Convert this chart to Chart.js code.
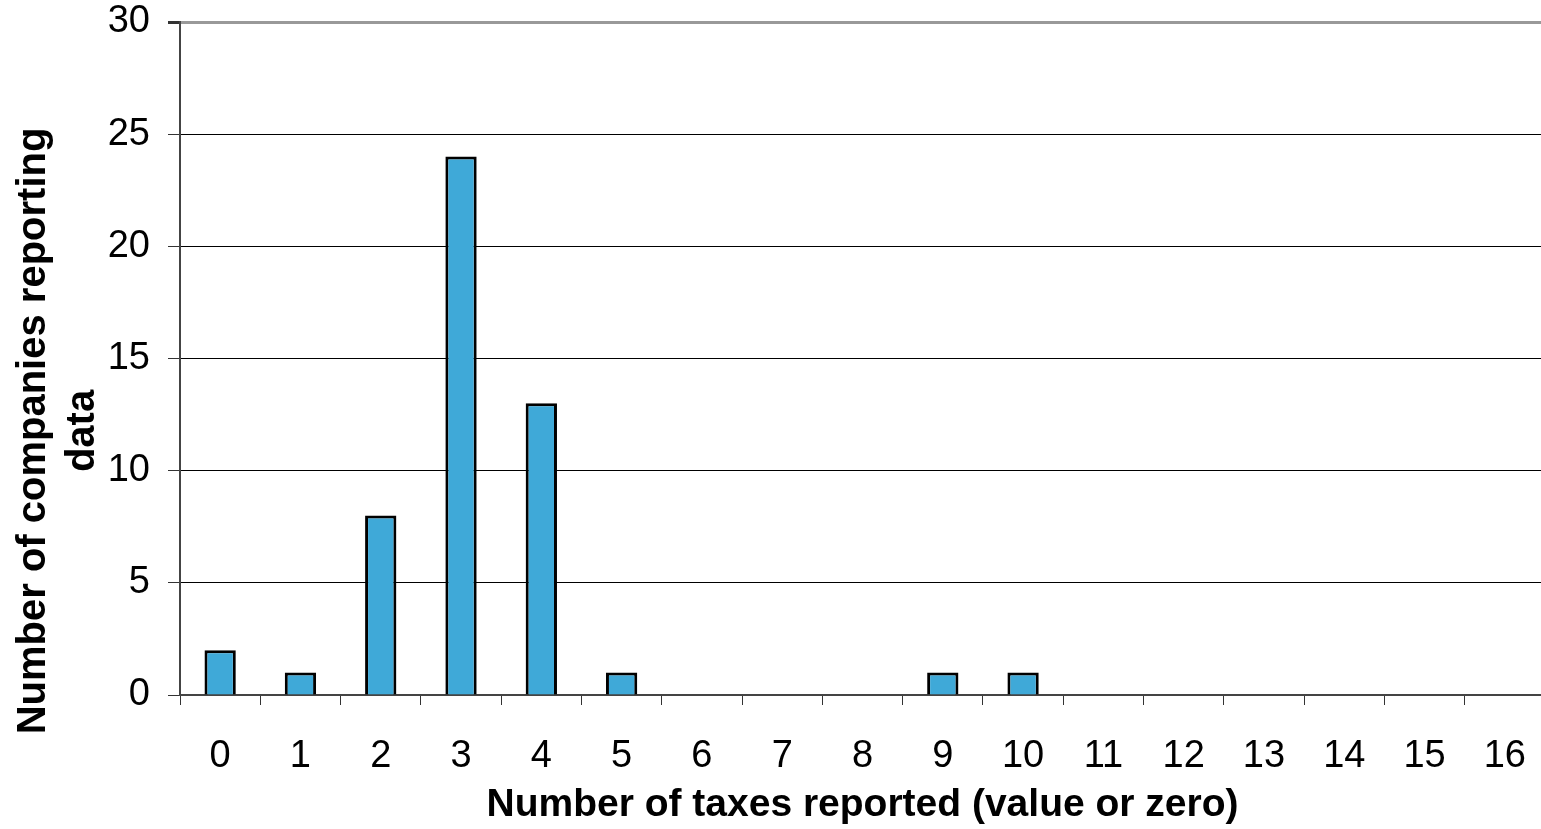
<!DOCTYPE html>
<html>
<head>
<meta charset="utf-8">
<script src="https://cdn.jsdelivr.net/npm/chart.js@4.4.0/dist/chart.umd.min.js"></script>
<style>
  html, body { margin: 0; padding: 0; background: #fff; overflow: hidden; }
  #wrap { width: 1550px; height: 829px; }
</style>
</head>
<body>
<div id="wrap"><canvas id="c" width="1550" height="829"></canvas></div>
<script>
// Number of taxes reported per company
const categories = ['0','1','2','3','4','5','6','7','8','9','10','11','12','13','14','15','16'];
const companyCounts = [2, 1, 8, 24, 13, 1, 0, 0, 0, 1, 1, 0, 0, 0, 0, 0, 0];
const yTicks = [0, 5, 10, 15, 20, 25, 30];
const xTitle = 'Number of taxes reported (value or zero)';
const yTitle = ['Number of companies reporting', 'data'];

const FONT = "'Liberation Sans', Arial, sans-serif";

// Vertical axis title, drawn rotated and sitting a little below the axis centre
const yTitlePlugin = {
  id: 'yTitle',
  afterDraw(chart) {
    const ctx = chart.ctx;
    ctx.save();
    ctx.font = `bold 40px ${FONT}`;
    ctx.fillStyle = '#000';
    ctx.textAlign = 'center';
    ctx.textBaseline = 'middle';
    ctx.translate(0, 431);
    ctx.rotate(-Math.PI / 2);
    yTitle.forEach((line, i) => ctx.fillText(line, 0, 34 + i * 49));
    ctx.restore();
  }
};

new Chart(document.getElementById('c'), {
  type: 'bar',
  data: {
    labels: categories,
    datasets: [{
      data: companyCounts,
      backgroundColor: '#3FA9D8',
      borderColor: '#000',
      borderWidth: 3,
      barPercentage: 0.39,
      categoryPercentage: 1.0
    }]
  },
  options: {
    responsive: false,
    animation: false,
    layout: { padding: { top: 22, right: 5, left: 0, bottom: 0 } },
    plugins: { legend: { display: false }, tooltip: { enabled: false } },
    scales: {
      x: {
        offset: true,
        afterFit: (axis) => { axis.height = 134; axis.paddingLeft = 0; axis.paddingRight = 0; },
        grid: {
          offset: true,
          drawOnChartArea: false,
          drawTicks: true,
          tickLength: 10,
          color: '#333',
          lineWidth: 1
        },
        border: { display: true, color: '#444', width: 2 },
        ticks: { color: '#000', font: { family: FONT, size: 38 }, padding: 29, maxRotation: 0 },
        title: { display: true, text: xTitle, color: '#000', font: { family: FONT, size: 39, weight: 'bold' }, padding: { top: 0, bottom: 0 } }
      },
      y: {
        min: 0,
        max: 30,
        afterFit: (axis) => { axis.width = 180; axis.paddingTop = 0; axis.paddingBottom = 0; },
        afterBuildTicks: (axis) => { axis.ticks = yTicks.map(v => ({ value: v })); },
        grid: {
          color: (ctx) => ctx.tick && ctx.tick.value === 30 ? '#999' : '#000',
          lineWidth: (ctx) => ctx.tick && ctx.tick.value === 30 ? 3 : 1,
          tickLength: 12,
          tickColor: '#333'
        },
        border: { display: true, color: '#444', width: 2 },
        ticks: { color: '#000', font: { family: FONT, size: 38 }, padding: 18 },
        title: { display: false }
      }
    }
  },
  plugins: [yTitlePlugin]
});
</script>
</body>
</html>
